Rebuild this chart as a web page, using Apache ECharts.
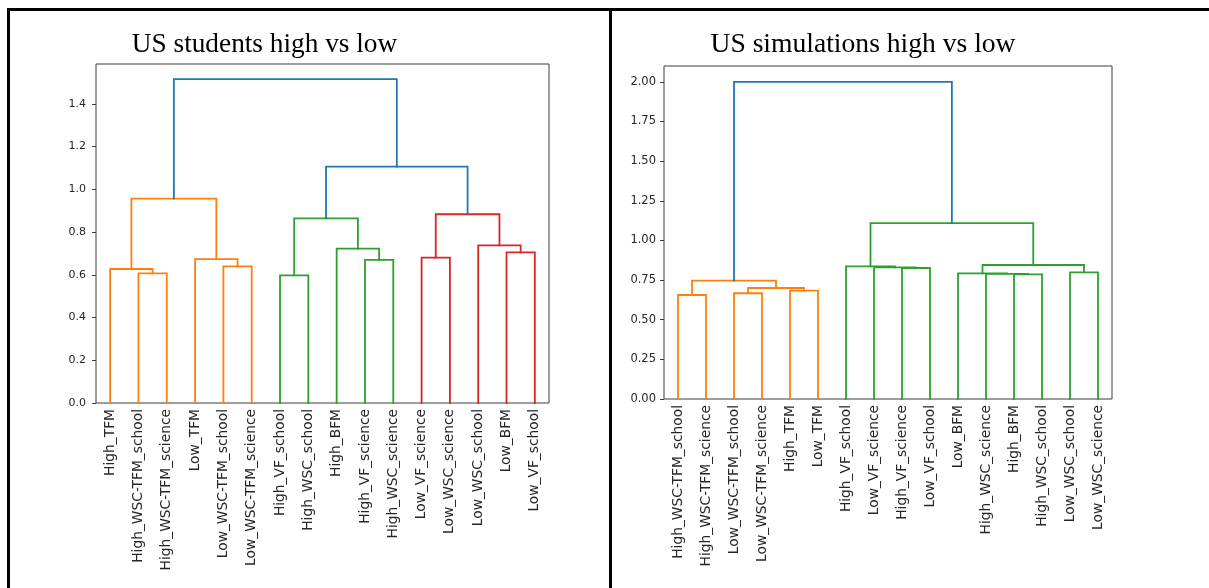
<!DOCTYPE html>
<html>
<head>
<meta charset="utf-8">
<script src="https://cdn.jsdelivr.net/npm/echarts@6/dist/echarts.min.js"></script>
<style>
html,body{margin:0;padding:0;background:#fff;}
#chart{width:1209px;height:588px;}
</style>
</head>
<body>
<div id="chart"></div>
<script>
// ---------- data ----------
const titleLeft = 'US students high vs low';
const titleRight = 'US simulations high vs low';

const leavesLeft = ['High_TFM','High_WSC-TFM_school','High_WSC-TFM_science','Low_TFM','Low_WSC-TFM_school','Low_WSC-TFM_science','High_VF_school','High_WSC_school','High_BFM','High_VF_science','High_WSC_science','Low_VF_science','Low_WSC_science','Low_WSC_school','Low_BFM','Low_VF_school'];
// [child A, child B, merge height, colour key]; children 0-15 are leaves, 16+ are earlier merges
const linksLeft = [
  [1, 2, 0.606, 'o'],
  [0, 16, 0.627, 'o'],
  [4, 5, 0.639, 'o'],
  [3, 18, 0.673, 'o'],
  [17, 19, 0.956, 'o'],
  [6, 7, 0.597, 'g'],
  [9, 10, 0.670, 'g'],
  [8, 22, 0.722, 'g'],
  [21, 23, 0.864, 'g'],
  [11, 12, 0.680, 'r'],
  [14, 15, 0.705, 'r'],
  [13, 26, 0.737, 'r'],
  [25, 27, 0.883, 'r'],
  [24, 28, 1.106, 'b'],
  [20, 29, 1.515, 'b']
];
const yTicksLeft = [0.0, 0.2, 0.4, 0.6, 0.8, 1.0, 1.2, 1.4];

const leavesRight = ['High_WSC-TFM_school','High_WSC-TFM_science','Low_WSC-TFM_school','Low_WSC-TFM_science','High_TFM','Low_TFM','High_VF_school','Low_VF_science','High_VF_science','Low_VF_school','Low_BFM','High_WSC_science','High_BFM','High_WSC_school','Low_WSC_school','Low_WSC_science'];
const linksRight = [
  [0, 1, 0.656, 'o'],
  [2, 3, 0.667, 'o'],
  [4, 5, 0.683, 'o'],
  [17, 18, 0.700, 'o'],
  [16, 19, 0.746, 'o'],
  [8, 9, 0.826, 'g'],
  [7, 21, 0.830, 'g'],
  [6, 22, 0.836, 'g'],
  [12, 13, 0.786, 'g'],
  [11, 24, 0.789, 'g'],
  [10, 25, 0.792, 'g'],
  [14, 15, 0.799, 'g'],
  [26, 27, 0.845, 'g'],
  [23, 28, 1.109, 'g'],
  [20, 29, 2.000, 'b']
];
const yTicksRight = [0.00, 0.25, 0.50, 0.75, 1.00, 1.25, 1.50, 1.75, 2.00];

// ---------- styling ----------
const palette = { b: '#1f77b4', o: '#ff7f0e', g: '#2ca02c', r: '#d62728' };
const frameColor = '#3c3c3c';
const textColor = '#262626';

function leafValues(leaves) { return leaves.map((_, i) => 5 + 10 * i); }

function buildSeries(leaves, links, idx) {
  const pos = leafValues(leaves).map(x => [x, 0]);
  const out = [];
  links.forEach(([a, b, h, c]) => {
    const pa = pos[a], pb = pos[b];
    out.push({
      type: 'line', xAxisIndex: idx, yAxisIndex: idx,
      data: [[pa[0], pa[1]], [pa[0], h], [pb[0], h], [pb[0], pb[1]]],
      symbol: 'none', silent: true,
      lineStyle: { color: palette[c], width: 1.8, cap: 'square', join: 'miter' }
    });
    pos.push([(pa[0] + pb[0]) / 2, h]);
  });
  return out;
}

function xAxis(leaves, idx) {
  const vals = leafValues(leaves);
  return {
    type: 'value', gridIndex: idx, min: 0, max: leaves.length * 10,
    axisLine: { show: false }, splitLine: { show: false },
    axisTick: { show: false },
    axisLabel: {
      customValues: vals, rotate: 90, margin: 6,
      fontFamily: 'DejaVu Sans', fontSize: 13.8, color: textColor,
      formatter: v => leaves[Math.round((v - 5) / 10)]
    }
  };
}
function yAxis(ticks, max, dec, idx, margin, fs) {
  return {
    type: 'value', gridIndex: idx, min: 0, max: max,
    axisLine: { show: false }, splitLine: { show: false },
    axisTick: { show: true, customValues: ticks, length: 4, lineStyle: { color: frameColor, width: 1 } },
    axisLabel: {
      customValues: ticks, margin: margin, fontFamily: 'DejaVu Sans', fontSize: fs, color: textColor,
      formatter: v => v.toFixed(dec)
    }
  };
}

const chart = echarts.init(document.getElementById('chart'), null, { renderer: 'canvas' });
chart.setOption({
  animation: false,
  backgroundColor: '#ffffff',
  grid: [
    { left: 96, top: 64, width: 453, height: 339, show: true, borderColor: frameColor, borderWidth: 1, backgroundColor: 'transparent' },
    { left: 664, top: 66, width: 448, height: 333, show: true, borderColor: frameColor, borderWidth: 1, backgroundColor: 'transparent' }
  ],
  xAxis: [xAxis(leavesLeft, 0), xAxis(leavesRight, 1)],
  yAxis: [yAxis(yTicksLeft, 1.586, 1, 0, 10, 11), yAxis(yTicksRight, 2.1, 2, 1, 8, 11.5)],
  series: buildSeries(leavesLeft, linksLeft, 0).concat(buildSeries(leavesRight, linksRight, 1)),
  graphic: [
    { type: 'rect', shape: { x: 7, y: 8, width: 1202, height: 3 }, style: { fill: '#000' }, silent: true },
    { type: 'rect', shape: { x: 7, y: 8, width: 3, height: 580 }, style: { fill: '#000' }, silent: true },
    { type: 'rect', shape: { x: 609, y: 8, width: 3, height: 580 }, style: { fill: '#000' }, silent: true },
    { type: 'text', x: 264.5, y: 44.5, style: { text: titleLeft, font: '27.3px "Liberation Serif"', fill: '#000', align: 'center', verticalAlign: 'middle' } },
    { type: 'text', x: 863, y: 44.5, style: { text: titleRight, font: '27.6px "Liberation Serif"', fill: '#000', align: 'center', verticalAlign: 'middle' } }
  ]
});
</script>
</body>
</html>
